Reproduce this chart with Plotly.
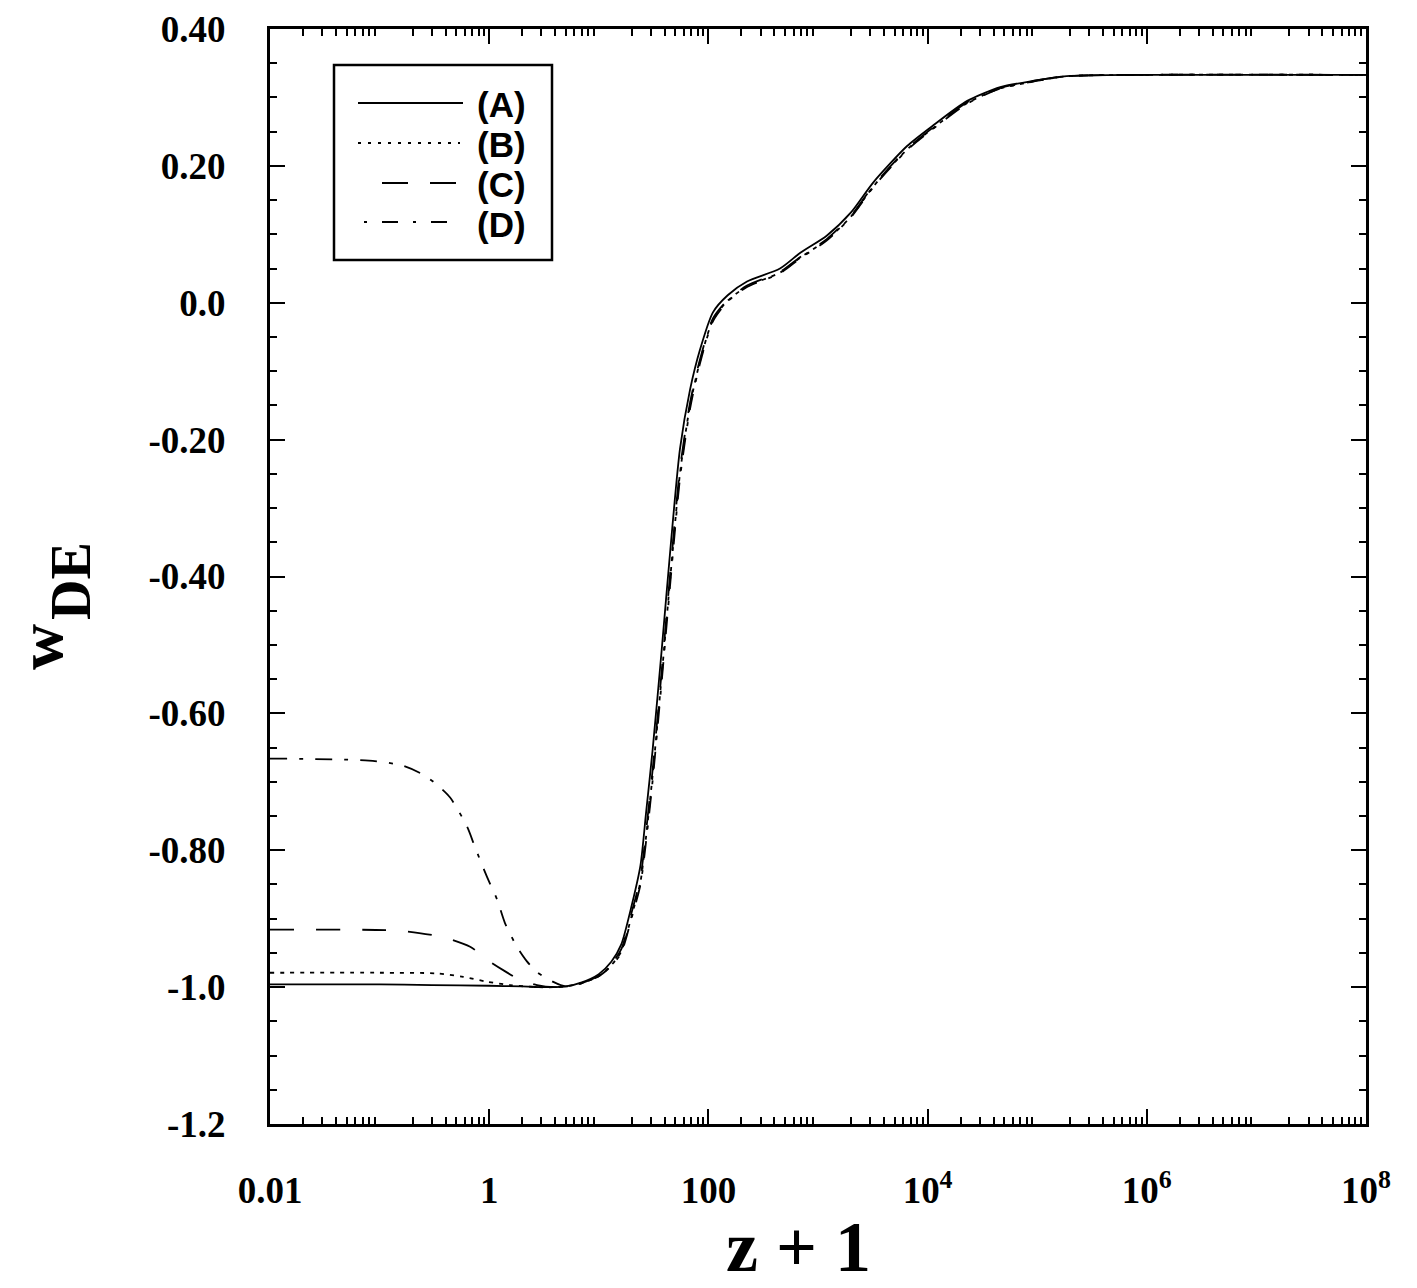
import plotly.graph_objects as go

# ---- data ----
x_hi = [5, 7, 10, 13, 16, 20, 24, 27, 31, 37.5, 45, 55, 68, 84, 110, 150, 225, 450,
        690, 1200, 2000, 3200, 6500, 11000, 23000, 46000, 91000, 186000, 1e6, 1e8]

xA_lo = [0.01, 0.1, 0.3, 1, 2, 3, 4]
yA_lo = [-0.996, -0.996, -0.997, -0.998, -0.999, -1.0, -1.0]
yA_hi = [-0.999, -0.993, -0.981, -0.963, -0.938, -0.880, -0.822, -0.745, -0.653, -0.507,
         -0.360, -0.214, -0.127, -0.068, -0.014, 0.011, 0.031, 0.050, 0.073, 0.098,
         0.132, 0.176, 0.229, 0.258, 0.295, 0.315, 0.324, 0.331, 0.333, 0.333]

xB_lo = [0.01, 0.1, 0.33, 0.58, 0.95, 1.55, 2.7, 4]
yB_lo = [-0.979, -0.979, -0.980, -0.985, -0.992, -0.997, -1.0, -1.0]
yB_hi = [-0.999, -0.994, -0.984, -0.968, -0.948, -0.895, -0.846, -0.780, -0.690, -0.545,
         -0.400, -0.250, -0.150, -0.085, -0.025, 0.003, 0.024, 0.044, 0.066, 0.092,
         0.126, 0.170, 0.224, 0.254, 0.292, 0.313, 0.323, 0.331, 0.333, 0.333]

xC_lo = [0.01, 0.13, 0.23, 0.38, 0.67, 1.02, 1.4, 1.79, 2.73, 4]
yC_lo = [-0.916, -0.917, -0.921, -0.927, -0.941, -0.963, -0.977, -0.987, -0.997, -1.0]
yC_hi = [-0.999, -0.994, -0.983, -0.966, -0.945, -0.890, -0.840, -0.772, -0.682, -0.538,
         -0.392, -0.243, -0.146, -0.082, -0.023, 0.004, 0.025, 0.045, 0.067, 0.093,
         0.127, 0.171, 0.225, 0.255, 0.293, 0.314, 0.324, 0.331, 0.333, 0.333]

xD_lo = [0.01, 0.08, 0.16, 0.234, 0.31, 0.44, 0.63, 0.74, 0.955, 1.18, 1.39, 1.79, 2.2, 2.73, 3.8]
yD_lo = [-0.666, -0.669, -0.676, -0.687, -0.700, -0.723, -0.766, -0.795, -0.839, -0.872,
         -0.906, -0.941, -0.962, -0.978, -0.992]
yD_hi = [-0.999, -0.994, -0.984, -0.969, -0.950, -0.898, -0.850, -0.787, -0.698, -0.553,
         -0.408, -0.257, -0.155, -0.088, -0.027, 0.002, 0.023, 0.043, 0.065, 0.091,
         0.125, 0.169, 0.223, 0.253, 0.291, 0.313, 0.323, 0.331, 0.333, 0.333]

series_names = ["(A)", "(B)", "(C)", "(D)"]
x_tick_vals = [0.01, 1, 100, 1e4, 1e6, 1e8]
x_tick_text = ["0.01", "1", "100", "10<sup>4</sup>", "10<sup>6</sup>", "10<sup>8</sup>"]
x_unlabeled_major = [0.1, 10, 1000, 1e5, 1e7]
y_tick_vals = [-1.2, -1.0, -0.8, -0.6, -0.4, -0.2, 0.0, 0.2, 0.4]
y_tick_text = ["-1.2", "-1.0", "-0.80", "-0.60", "-0.40", "-0.20", "0.0", "0.20", "0.40"]

# ---- styling ----
dashes = ["solid", "4px,6px", "24px,22px", "17px,12px,4px,12px"]
legend_dashes = ["solid", "3px,7px", "26px,22px", "3px,15px,16px,15px"]

fig = go.Figure()
data = [(xA_lo + x_hi, yA_lo + yA_hi), (xB_lo + x_hi, yB_lo + yB_hi),
        (xC_lo + x_hi, yC_lo + yC_hi), (xD_lo + x_hi, yD_lo + yD_hi)]
for (xs, ys), name, d in zip(data, series_names, dashes):
    fig.add_trace(go.Scatter(x=xs, y=ys, mode="lines", name=name, showlegend=False,
                             line=dict(color="black", width=1.8, dash=d,
                                       shape="spline", smoothing=0.7)))

L, R, T, B = 270, 1366, 29, 1124
def px(xp):
    return (xp - L) / (R - L)
def py(yp):
    return (B - yp) / (B - T)

minor_x = [m * 10 ** e for e in range(-2, 8) for m in range(2, 10)]

serif = "Liberation Serif"
fig.update_layout(
    xaxis=dict(type="log", range=[-2, 8], tickvals=x_tick_vals, ticktext=x_tick_text,
               ticks="inside", ticklen=15, tickwidth=2, tickcolor="black",
               showline=True, linewidth=3, linecolor="black", mirror="ticks",
               showgrid=False, zeroline=False, automargin=False,
               tickfont=dict(family=serif, size=37, color="black", weight="bold"),
               ticklabelstandoff=32,
               minor=dict(tickvals=minor_x, ticks="inside", ticklen=7, tickwidth=1.5,
                          tickcolor="black", showgrid=False)),
    xaxis2=dict(type="log", range=[-2, 8], overlaying="x", anchor="y", side="bottom",
                tickvals=x_unlabeled_major, showticklabels=False,
                ticks="inside", ticklen=15, tickwidth=2, tickcolor="black",
                showline=False, mirror="ticks", showgrid=False, zeroline=False,
                automargin=False),
    yaxis=dict(range=[-1.2, 0.4], tickvals=y_tick_vals, ticktext=y_tick_text,
               ticks="inside", ticklen=15, tickwidth=2, tickcolor="black",
               showline=True, linewidth=3, linecolor="black", mirror="ticks",
               showgrid=False, zeroline=False, automargin=False,
               tickfont=dict(family=serif, size=37, color="black", weight="bold"),
               ticklabelstandoff=34,
               minor=dict(dtick=0.05, ticks="inside", ticklen=7, tickwidth=1.5,
                          tickcolor="black", showgrid=False)),
)

shapes = [dict(type="rect", xref="paper", yref="paper", x0=px(334), x1=px(552),
               y0=py(260), y1=py(65), line=dict(color="black", width=2.5),
               fillcolor="white", layer="above")]
leg_rows = [103, 143, 183, 222]
leg_label_rows = [105, 145, 185, 225]
leg_x = [(358, 463), (358, 460), (382, 457), (364, 448)]
annotations = []
for name, yr, yl, (xa, xb), d in zip(series_names, leg_rows, leg_label_rows, leg_x, legend_dashes):
    shapes.append(dict(type="line", xref="paper", yref="paper", x0=px(xa), x1=px(xb),
                       y0=py(yr), y1=py(yr), line=dict(color="black", width=1.8, dash=d),
                       layer="above"))
    annotations.append(dict(text=name, xref="paper", yref="paper", x=px(475), y=py(yl),
                            xanchor="left", yanchor="middle", showarrow=False,
                            font=dict(family="Liberation Sans", size=35, color="black",
                                      weight="bold")))

annotations.append(dict(text="z + 1", xref="paper", yref="paper", x=px(798), y=py(1247),
                        xanchor="center", yanchor="middle", showarrow=False,
                        font=dict(family=serif, size=72, color="black", weight="bold")))
annotations.append(dict(text="w", xref="paper", yref="paper", x=px(40), y=py(647),
                        xanchor="center", yanchor="middle", showarrow=False, textangle=-90,
                        font=dict(family=serif, size=64, color="black", weight="bold")))
annotations.append(dict(text="DE", xref="paper", yref="paper", x=px(71), y=py(581),
                        xanchor="center", yanchor="middle", showarrow=False, textangle=-90,
                        font=dict(family=serif, size=56, color="black", weight="bold")))

fig.update_layout(width=1417, height=1288, margin=dict(l=L, r=1417 - R, t=T, b=1288 - B),
                  plot_bgcolor="white", paper_bgcolor="white",
                  shapes=shapes, annotations=annotations, showlegend=False)

fig.write_html("out.html")
